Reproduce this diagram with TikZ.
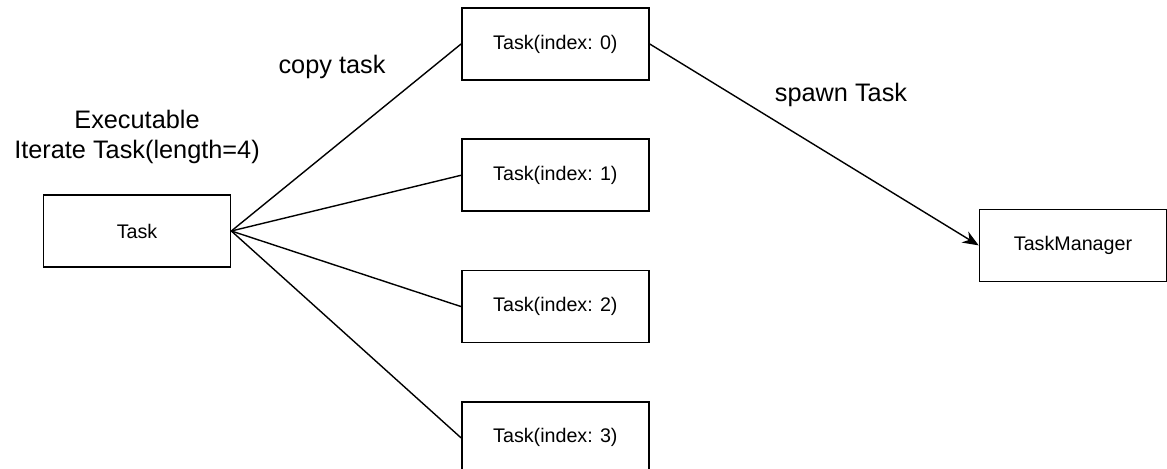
\documentclass[tikz,border=0pt]{standalone}
\usepackage{fontspec}
\setmainfont{Liberation Sans}
\usepackage{tikz}
\usetikzlibrary{arrows.meta,positioning}
\tikzstyle{arrow} = [line width=1pt,-{Stealth[length=4mm,width=3.2mm]},color=black]
\tikzstyle{link} = [line width=1pt,color=black]
\tikzstyle{taskbox} = [rectangle, minimum width=4.675cm, minimum height=1.8cm, text centered, draw=black, fill=white, line width=1.2pt, font=\fontsize{14pt}{17pt}\selectfont]
\tikzstyle{lbl} = [inner sep=0pt, font=\fontsize{18pt}{21.5pt}\selectfont]

\begin{document}
\begin{tikzpicture}
\useasboundingbox (-3.425,-5.95) rectangle (25.75,5.775);
\node[taskbox] (task) {Task};
\node[taskbox] (idx0) at (10.46,4.675) {Task(index: 0)};
\node[taskbox, below=1.44cm of idx0] (idx1) {Task(index: 1)};
\node[taskbox, below=1.44cm of idx1] (idx2) {Task(index: 2)};
\node[taskbox, below=1.44cm of idx2] (idx3) {Task(index: 3)};
\node[taskbox] (mgr) at (23.4,-0.36) {TaskManager};
\node[lbl, align=center, above=0.75cm of task] (iter) {Executable\\Iterate Task(length=4)};
\node[lbl] (copy) at (4.875,4.1) {copy task};
\node[lbl] (spawn) at (17.6,3.4) {spawn Task};
\draw[link] (task.east) -- (idx0.west);
\draw[link] (task.east) -- (idx1.west);
\draw[link] (task.east) -- (idx2.west);
\draw[link] (task.east) -- (idx3.west);
\draw[arrow] (idx0.east) -- (mgr.west);
\end{tikzpicture}
\end{document}
